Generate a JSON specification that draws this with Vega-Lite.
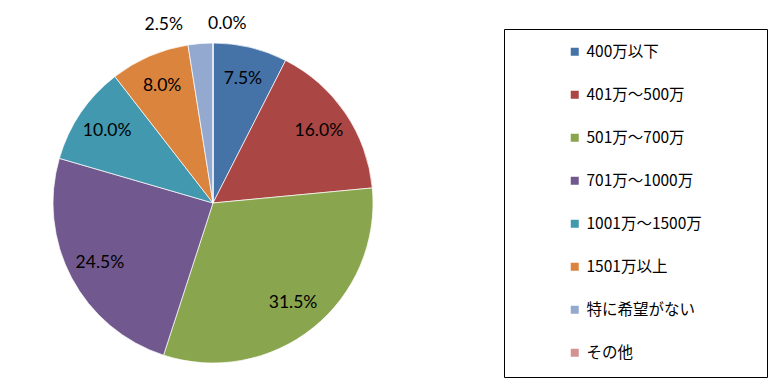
{
  "$schema": "https://vega.github.io/schema/vega-lite/v6.json",
  "width": 426,
  "height": 368,
  "padding": {"left": 0, "top": 15, "right": 0, "bottom": 0},
  "background": "white",
  "config": {"view": {"stroke": null}},
  "data": {
    "values": [
      {"category": "400万以下", "pct": 7.5, "label": "7.5%", "ord": 1},
      {"category": "401万～500万", "pct": 16.0, "label": "16.0%", "ord": 2},
      {"category": "501万～700万", "pct": 31.5, "label": "31.5%", "ord": 3},
      {"category": "701万～1000万", "pct": 24.5, "label": "24.5%", "ord": 4},
      {"category": "1001万～1500万", "pct": 10.0, "label": "10.0%", "ord": 5},
      {"category": "1501万以上", "pct": 8.0, "label": "8.0%", "ord": 6},
      {"category": "特に希望がない", "pct": 2.5, "label": "2.5%", "ord": 7},
      {"category": "その他", "pct": 0.0, "label": "0.0%", "ord": 8}
    ]
  },
  "encoding": {
    "theta": {"field": "pct", "type": "quantitative", "stack": true},
    "order": {"field": "ord", "type": "quantitative"}
  },
  "layer": [
    {
      "mark": {"type": "arc", "outerRadius": 160, "stroke": "white", "strokeWidth": 0.7},
      "encoding": {
        "color": {
          "field": "category",
          "type": "nominal",
          "scale": {
            "domain": ["400万以下", "401万～500万", "501万～700万", "701万～1000万", "1001万～1500万", "1501万以上", "特に希望がない", "その他"],
            "range": ["#4572A7", "#AA4643", "#89A54E", "#71588F", "#4198AF", "#DB843D", "#93A9CF", "#D19392"]
          },
          "legend": {
            "orient": "none",
            "legendX": 504,
            "legendY": 10,
            "title": " ",
            "titleOrient": "right",
            "titlePadding": 50,
            "titleFontSize": 6,
            "padding": 15,
            "symbolOffset": 48,
            "symbolType": "square",
            "symbolSize": 64,
            "symbolStrokeWidth": 0,
            "labelOffset": 4,
            "labelFont": "Noto Sans CJK JP",
            "labelFontSize": 15.5,
            "labelColor": "#000000",
            "labelLimit": 300,
            "rowPadding": 26,
            "strokeColor": "#000000",
            "fillColor": "white",
            "encode": {"legend": {"update": {"strokeWidth": {"value": 1.5}}}}
          }
        }
      }
    },
    {
      "mark": {"type": "text", "radius": 128, "font": "Lato", "fontSize": 17.5, "color": "#000000"},
      "encoding": {
        "text": {"condition": {"test": "datum.pct >= 5", "field": "label"}, "value": ""}
      }
    },
    {
      "mark": {"type": "text", "radius": 179, "font": "Lato", "fontSize": 17.5, "color": "#000000", "align": "right", "dx": -16},
      "encoding": {
        "text": {"condition": {"test": "datum.ord == 7", "field": "label"}, "value": ""}
      }
    },
    {
      "mark": {"type": "text", "radius": 179, "font": "Lato", "fontSize": 17.5, "color": "#000000", "align": "left", "dx": -5},
      "encoding": {
        "text": {"condition": {"test": "datum.ord == 8", "field": "label"}, "value": ""}
      }
    }
  ]
}
